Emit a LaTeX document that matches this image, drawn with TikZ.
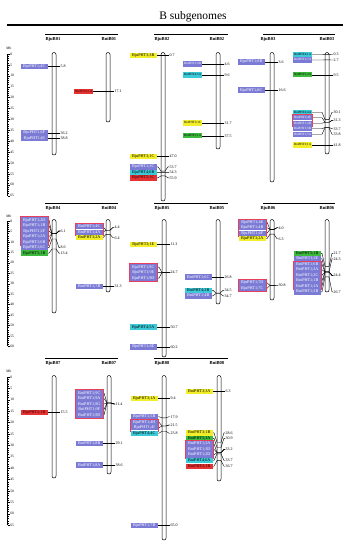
\documentclass[tikz,border=0pt]{standalone}
\usepackage{fontspec}
\setmainfont{Liberation Serif}
\usetikzlibrary{fit}
\definecolor{cblue}{HTML}{7B7BD6}
\definecolor{cred}{HTML}{E53232}
\definecolor{cyel}{HTML}{F2EE2A}
\definecolor{ccyan}{HTML}{3CCAD8}
\definecolor{cgreen}{HTML}{3DBA3D}
\definecolor{cbox}{HTML}{E8405A}
\tikzset{
 lab/.style={font=\fontsize{4.2}{5}\selectfont, inner sep=0.3pt, minimum width=27pt, minimum height=5.4pt, text height=2.9pt, text depth=0.8pt},
 labs/.style={font=\fontsize{3.2}{4}\selectfont, inner sep=0.2pt, minimum width=18.5pt, minimum height=5.4pt, text height=2.4pt, text depth=0.7pt},
 pb/.style={lab, fill=cblue, text=white},
 pr/.style={lab, fill=cred, text=black!80!red},
 py/.style={lab, fill=cyel, text=black},
 pc/.style={lab, fill=ccyan, text=black},
 pg/.style={lab, fill=cgreen, text=black},
 pbs/.style={labs, fill=cblue, text=white},
 prs/.style={labs, fill=cred, text=black!80!red},
 pys/.style={labs, fill=cyel, text=black},
 pcs/.style={labs, fill=ccyan, text=black},
 pgs/.style={labs, fill=cgreen, text=black},
 numtxt/.style={font=\fontsize{4}{5}\selectfont, inner sep=0.3pt},
 conn/.style={line width=0.4pt},
 chrom/.style={draw, line width=0.5pt, fill=white, rounded corners=2pt},
 grp/.style={draw=cbox, line width=0.7pt, inner sep=0.4pt},
 chname/.style={font=\bfseries\fontsize{4.6}{5}\selectfont, inner sep=0.3pt},
 axtxt/.style={font=\fontsize{3.6}{4}\selectfont, inner sep=0.3pt},
}
\newcommand\GeneL[8]{%
 \node[#2,anchor=east] (#1) at (#4,#5) {#3};
 \draw[conn] (#1.east) -- ({#6-5},#5) -- ({#6-2},{\yz+\sc*#7}) -- ({#6+2},{\yz+\sc*#7}) -- ([xshift=-1pt]#8.west) -- (#8.west);
}
\newcommand\GeneN[4]{\node[numtxt,anchor=west] (#1) at ({#2+6},#3) {#4};}
\newcommand\GeneS[7]{%
 \pgfmathsetmacro\yy{\yz+\sc*#6}%
 \node[numtxt,anchor=west] (#1n) at ({#5+6},\yy) {#7};
 \GeneL{#1}{#2}{#3}{#4}{\yy}{#5}{#6}{#1n}}
\newcommand\Chrom[3]{\draw[chrom] ({#1-2},#2) rectangle ({#1+2},#3);}
\newcommand\MbAxis[5]{% id, y0, s, max, ymb
 \node[axtxt] (#1mb) at (9,#5) {Mb};
 \draw[line width=0.35pt] (7.5,#2) -- (7.5,{#2+#3*#4});
 \foreach \i in {0,...,#4} { \draw[line width=0.25pt] (7.5,{#2+#3*\i}) -- (8.7,{#2+#3*\i}); }
 \foreach \i in {0,5,...,#4} { \draw[line width=0.3pt] (7.5,{#2+#3*\i}) -- (9.8,{#2+#3*\i}) node[axtxt,anchor=west] (#1t\i) {\i}; }
}
\newcommand\ChrHead[8]{% id, x1, x2, y, xa, namea, xb, nameb
 \draw[line width=0.5pt] (#2,#4) -- (#3,#4);
 \node[chname] (#1a) at (#5,{#4+5.3}) {#6};
 \node[chname] (#1b) at (#7,{#4+5.3}) {#8};
}
\begin{document}
\begin{tikzpicture}[x=1pt,y=-1pt]
\fill[white] (0,0) rectangle (348,550);
\useasboundingbox (0,0) rectangle (348,550);
\node[font=\fontsize{11.5}{13}\selectfont, inner sep=0] (title) at (193,16.5) {B subgenomes};
\draw[line width=1.2pt] (7,25) -- (343,25);

% ================= Row 1 =================
\def\yz{54}\def\sc{2.18}
\MbAxis{ax1}{54}{2.18}{65}{48}
\ChrHead{h1}{45}{118}{34}{53}{BjuB01}{109}{BniB01}
\ChrHead{h2}{154}{228}{34}{162}{BjuB02}{217}{BniB02}
\ChrHead{h3}{263}{335}{34}{268}{BjuB03}{327}{BniB03}
\Chrom{54}{52.5}{155}
\Chrom{108}{52.5}{122}
\Chrom{163}{52.5}{201}
\Chrom{218}{52.5}{149}
\Chrom{272}{52.5}{182}
\Chrom{327}{52.5}{154}
% BjuB01
\GeneS{g1}{pb}{BjuPHT1;4C}{48}{54}{5.8}{5.8}
\GeneS{g2}{pb}{BjuPHT1;6F}{48}{54}{36.2}{36.2}
\GeneS{g3}{pb}{BjuPHT1;6I}{48}{54}{38.8}{38.8}
% BniB01
\GeneS{g4}{prs}{BniPHT2;1A}{93}{108}{17.1}{17.1}
% BjuB02
\GeneS{g5}{py}{BjuPHT3;3B}{157}{163}{0.7}{0.7}
\GeneS{g6}{py}{BjuPHT3;1C}{157}{163}{47.0}{47.0}
\GeneN{n7}{163}{166.8}{53.7}\GeneL{g7}{pb}{BjuPHT1;3C}{157}{166.8}{163}{53.7}{n7}
\GeneN{n8}{163}{172.3}{54.3}\GeneL{g8}{pc}{BjuPHT4;6B}{157}{172.3}{163}{54.3}{n8}
\GeneN{n9}{163}{177.8}{55.9}\GeneL{g9}{pr}{BjuPHT2;1C}{157}{177.8}{163}{55.9}{n9}
% BniB02
\GeneS{g10}{pbs}{BniPHT1;9D}{202}{218}{4.6}{4.6}
\GeneS{g11}{pcs}{BniPHT4;5A}{202}{218}{9.6}{9.6}
\GeneS{g12}{pys}{BniPHT3;1C}{202}{218}{31.7}{31.7}
\GeneS{g13}{pgs}{BniPHT5;1A}{202}{218}{37.5}{37.5}
% BjuB03
\GeneS{g14}{pb}{BjuPHT1;8B}{265}{272}{3.6}{3.6}
\GeneS{g15}{pb}{BjuPHT1;8C}{265}{272}{16.6}{16.6}
% BniB03
\GeneN{n16}{327}{54.5}{0.3}\GeneL{g16}{pcs}{BniPHT4;1A}{312}{54.5}{327}{0.3}{n16}
\GeneN{n17}{327}{60}{2.7}\GeneL{g17}{pbs}{BniPHT1;7A}{312}{60}{327}{2.7}{n17}
\GeneS{g18}{pgs}{BniPHT5;2A}{312}{327}{9.5}{9.5}
\GeneN{n19}{327}{112.2}{30.1}\GeneL{g19}{pcs}{BniPHT4;4A}{312}{112.2}{327}{30.1}{n19}
\GeneN{n20}{327}{120.4}{31.3}
\GeneL{g20}{pbs}{BniPHT1;4E}{312}{117.7}{327}{31.3}{n20}
\GeneL{g21}{pbs}{BniPHT1;4D}{312}{123.2}{327}{31.3}{n20}
\node[grp, fit=(g20)(g21)] (box1) {};
\GeneN{n22}{327}{128.7}{33.7}\GeneL{g22}{pbs}{BniPHT1;5B}{312}{128.7}{327}{33.7}{n22}
\GeneN{n23}{327}{134.2}{33.8}\GeneL{g23}{pbs}{BniPHT1;5A}{312}{134.2}{327}{33.8}{n23}
\GeneS{g24}{pys}{BniPHT3;1A}{312}{327}{41.8}{41.8}

% ================= Row 2 =================
\def\yz{221}\def\sc{2.09}
\MbAxis{ax2}{221}{2.09}{60}{216.5}
\ChrHead{h4}{45}{118}{203}{53}{BjuB04}{109}{BniB04}
\ChrHead{h5}{154}{228}{203}{162}{BjuB05}{217}{BniB05}
\ChrHead{h6}{263}{335}{203}{268}{BjuB06}{327}{BniB06}
\Chrom{54}{219.5}{313}
\Chrom{108}{219.5}{292}
\Chrom{164}{219.5}{357}
\Chrom{218}{219.5}{304}
\Chrom{272}{219.5}{300}
\Chrom{327}{219.5}{292}
% BjuB04
\GeneN{n25}{54}{231}{6.1}
\GeneL{g25}{pb}{BjuPHT1;2D}{48}{220}{54}{6.1}{n25}
\GeneL{g26}{pb}{BjuPHT1;1B}{48}{225.5}{54}{6.1}{n25}
\GeneL{g27}{pb}{BjuPHT1;2F}{48}{231}{54}{6.1}{n25}
\GeneL{g28}{pb}{BjuPHT1;2A}{48}{236.5}{54}{6.1}{n25}
\GeneL{g29}{pb}{BjuPHT1;6B}{48}{242}{54}{6.1}{n25}
\node[grp, fit=(g25)(g29)] (box2) {};
\GeneN{n30}{54}{247.6}{8.6}\GeneL{g30}{pb}{BjuPHT1;6C}{48}{247.6}{54}{8.6}{n30}
\GeneN{n31}{54}{253.1}{13.4}\GeneL{g31}{pg}{BjuPHT5;1B}{48}{253.1}{54}{13.4}{n31}
% BniB04
\GeneN{n32}{108}{227.5}{4.4}
\GeneL{g32}{pb}{BniPHT1;4C}{103}{226.7}{108}{4.4}{n32}
\GeneL{g33}{pb}{BniPHT1;4A}{103}{232.2}{108}{4.4}{n32}
\node[grp, fit=(g32)(g33)] (box3) {};
\GeneN{n34}{108}{237.7}{6.4}\GeneL{g34}{py}{BniPHT3;2A}{103}{237.7}{108}{6.4}{n34}
\GeneS{g35}{pb}{BniPHT1;7B}{103}{108}{31.3}{31.3}
% BjuB05
\GeneS{g36}{py}{BjuPHT3;1E}{157}{164}{11.3}{11.3}
\GeneN{n37}{164}{272.6}{24.7}
\GeneL{g37}{pb}{BjuPHT1;9C}{157}{267.1}{164}{24.7}{n37}
\GeneL{g38}{pb}{BjuPHT1;9E}{157}{272.6}{164}{24.7}{n37}
\GeneL{g39}{pb}{BjuPHT1;9D}{157}{278.1}{164}{24.7}{n37}
\node[grp, fit=(g37)(g39)] (box4) {};
\GeneS{g40}{pc}{BjuPHT4;5A}{157}{164}{50.7}{50.7}
\GeneS{g41}{pb}{BjuPHT1;8E}{157}{164}{60.2}{60.2}
% BniB05
\GeneS{g42}{pb}{BniPHT1;6C}{212}{218}{26.8}{26.8}
\GeneN{n43}{218}{290.3}{34.5}\GeneL{g43}{pc}{BniPHT4;2B}{212}{290.3}{218}{34.5}{n43}
\GeneN{n44}{218}{295.8}{34.7}\GeneL{g44}{pb}{BniPHT1;4B}{212}{295.8}{218}{34.7}{n44}
% BjuB06
\GeneN{n45}{272}{227.7}{4.0}
\GeneL{g45}{pb}{BjuPHT1;4E}{266}{222.2}{272}{4.0}{n45}
\GeneL{g46}{pb}{BjuPHT1;4B}{266}{227.7}{272}{4.0}{n45}
\GeneL{g47}{pb}{BjuPHT1;4F}{266}{233.2}{272}{4.0}{n45}
\node[grp, fit=(g45)(g47)] (box5) {};
\GeneN{n48}{272}{238.7}{6.3}\GeneL{g48}{py}{BjuPHT3;2A}{266}{238.7}{272}{6.3}{n48}
\GeneN{n49}{272}{285.5}{30.8}
\GeneL{g49}{pb}{BjuPHT1;7D}{266}{282.8}{272}{30.8}{n49}
\GeneL{g50}{pb}{BjuPHT1;7C}{266}{288.3}{272}{30.8}{n49}
\node[grp, fit=(g49)(g50)] (box6) {};
% BniB06
\GeneN{n51}{327}{253.3}{21.7}\GeneL{g51}{pg}{BniPHT5;1B}{321}{253.3}{327}{21.7}{n51}
\GeneN{n52}{327}{258.8}{24.3}\GeneL{g52}{pb}{BniPHT1;2E}{321}{258.8}{327}{24.3}{n52}
\GeneN{n53}{327}{275.3}{24.4}
\GeneL{g53}{pb}{BniPHT1;6B}{321}{264.3}{327}{24.4}{n53}
\GeneL{g54}{pb}{BniPHT1;2A}{321}{269.8}{327}{24.4}{n53}
\GeneL{g55}{pb}{BniPHT1;2C}{321}{275.3}{327}{24.4}{n53}
\GeneL{g56}{pb}{BniPHT1;1B}{321}{280.8}{327}{24.4}{n53}
\GeneL{g57}{pb}{BniPHT1;1A}{321}{286.3}{327}{24.4}{n53}
\node[grp, fit=(g53)(g57)] (box7) {};
\GeneN{n58}{327}{291.8}{26.7}\GeneL{g58}{pb}{BniPHT1;2B}{321}{291.8}{327}{26.7}{n58}

% ================= Row 3 =================
\def\yz{377}\def\sc{2.28}
\MbAxis{ax3}{377}{2.28}{65}{371}
\ChrHead{h7}{45}{118}{358}{53}{BjuB07}{109}{BniB07}
\ChrHead{h8}{154}{228}{358}{162}{BjuB08}{217}{BniB08}
\Chrom{54}{375.5}{478}
\Chrom{109}{375.5}{474}
\Chrom{164}{375.5}{540}
\Chrom{219}{375.5}{481}
% BjuB07
\GeneS{g59}{pr}{BjuPHT2;1B}{48}{54}{15.5}{15.5}
% BniB07
\GeneN{n60}{109}{404}{11.4}
\GeneL{g60}{pb}{BniPHT1;9C}{103}{393}{109}{11.4}{n60}
\GeneL{g61}{pb}{BniPHT1;9A}{103}{398.5}{109}{11.4}{n60}
\GeneL{g62}{pb}{BniPHT1;9G}{103}{404}{109}{11.4}{n60}
\GeneL{g63}{pb}{BniPHT1;9F}{103}{409.5}{109}{11.4}{n60}
\GeneL{g64}{pb}{BniPHT1;9D}{103}{415}{109}{11.4}{n60}
\node[grp, fit=(g60)(g64)] (box8) {};
\GeneS{g65}{pb}{BniPHT1;8B}{103}{109}{29.1}{29.1}
\GeneS{g66}{pb}{BniPHT1;8A}{103}{109}{38.6}{38.6}
% BjuB08
\GeneS{g67}{py}{BjuPHT3;1A}{158}{164}{9.4}{9.4}
\GeneN{n68}{164}{416.7}{17.9}\GeneL{g68}{pb}{BjuPHT1;5B}{158}{416.7}{164}{17.9}{n68}
\GeneN{n69}{164}{425}{21.5}
\GeneL{g69}{pb}{BjuPHT1;4H}{158}{422.2}{164}{21.5}{n69}
\GeneL{g70}{pb}{BjuPHT1;4I}{158}{427.7}{164}{21.5}{n69}
\node[grp, fit=(g69)(g70)] (box9) {};
\GeneN{n71}{164}{433.2}{23.8}\GeneL{g71}{pc}{BjuPHT4;4C}{158}{433.2}{164}{23.8}{n71}
\GeneS{g72}{pb}{BjuPHT1;7B}{158}{164}{65.0}{65.0}
% BniB08
\GeneS{g73}{py}{BniPHT3;3A}{213}{219}{6.3}{6.3}
\GeneN{n74}{219}{432.8}{28.6}\GeneL{g74}{py}{BniPHT3;1B}{213}{432.8}{219}{28.6}{n74}
\GeneN{n75}{219}{438.3}{30.9}\GeneL{g75}{pg}{BniPHT5;3A}{213}{438.3}{219}{30.9}{n75}
\GeneN{n76}{219}{449.4}{33.2}
\GeneL{g76}{pb}{BniPHT1;3A}{213}{443.8}{219}{33.2}{n76}
\GeneL{g77}{pb}{BniPHT1;3D}{213}{449.3}{219}{33.2}{n76}
\GeneL{g78}{pb}{BniPHT1;2D}{213}{454.8}{219}{33.2}{n76}
\node[grp, fit=(g76)(g78)] (box10) {};
\GeneN{n79}{219}{460.5}{33.7}\GeneL{g79}{pc}{BniPHT4;6A}{213}{460.5}{219}{33.7}{n79}
\GeneN{n80}{219}{466.2}{36.7}\GeneL{g80}{pr}{BniPHT2;1B}{213}{466.2}{219}{36.7}{n80}
\end{tikzpicture}
\end{document}
